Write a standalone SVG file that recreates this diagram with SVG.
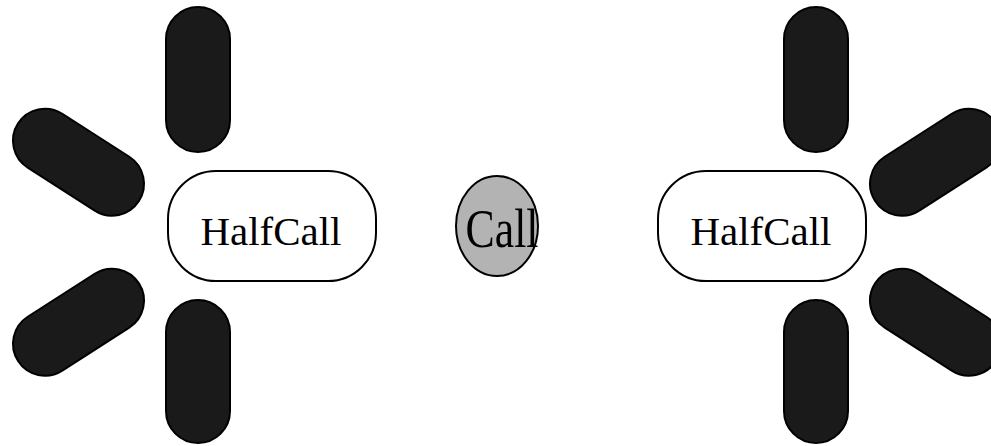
<svg xmlns="http://www.w3.org/2000/svg" width="991" height="446" viewBox="0 0 991 446">
<style>
.pill{fill:#1a1a1a;stroke:#000;stroke-width:2}
.box{fill:#fff;stroke:#000;stroke-width:2}
.lbl{font-family:"Liberation Serif","Times New Roman",serif;fill:#000;text-anchor:middle}
</style>
<rect width="991" height="446" fill="#fff"/>
<g id="connectors">
<rect class="pill" x="166" y="7" width="64" height="145" rx="32"/>
<rect class="pill" x="166" y="300" width="64" height="143" rx="32"/>
<rect class="pill" x="-71.8" y="-32" width="143.6" height="64" rx="32" transform="translate(78.5,162.2) rotate(32.7)"/>
<rect class="pill" x="-71.8" y="-32" width="143.6" height="64" rx="32" transform="translate(78.5,322.2) rotate(-32.7)"/>
<rect class="pill" x="784" y="7" width="64" height="145" rx="32"/>
<rect class="pill" x="784" y="300" width="64" height="143" rx="32"/>
<rect class="pill" x="-71.8" y="-32" width="143.6" height="64" rx="32" transform="translate(935.5,162.2) rotate(-32.7)"/>
<rect class="pill" x="-71.8" y="-32" width="143.6" height="64" rx="32" transform="translate(935.5,322.2) rotate(32.7)"/>
</g>
<g id="halfcall1">
<rect class="box" x="168" y="171" width="208" height="110" rx="48"/>
<text class="lbl" x="271" y="245" font-size="41" textLength="141" lengthAdjust="spacingAndGlyphs">HalfCall</text>
</g>
<g id="call">
<ellipse cx="497" cy="226" rx="41" ry="50" fill="#b3b3b3" stroke="#000" stroke-width="2"/>
<text class="lbl" x="502" y="247" font-size="55" textLength="73" lengthAdjust="spacingAndGlyphs">Call</text>
</g>
<g id="halfcall2">
<rect class="box" x="658" y="171" width="208" height="110" rx="48"/>
<text class="lbl" x="761" y="245" font-size="41" textLength="141" lengthAdjust="spacingAndGlyphs">HalfCall</text>
</g>
</svg>
